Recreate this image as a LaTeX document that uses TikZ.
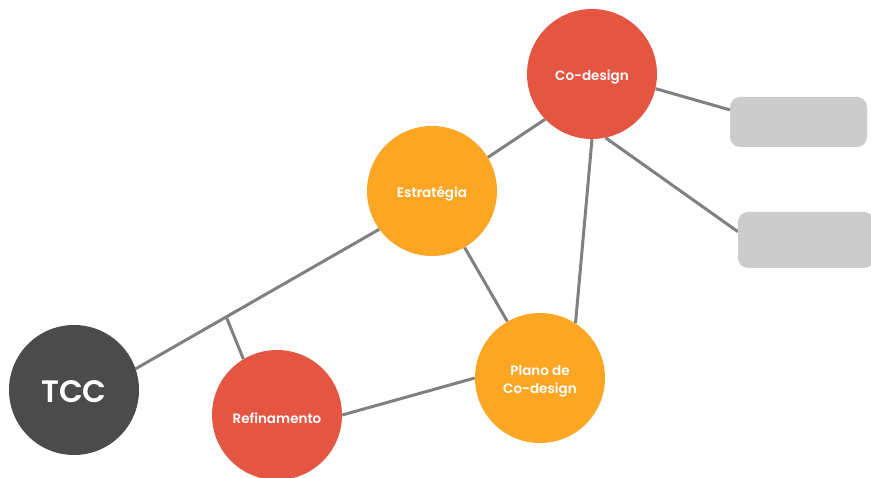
\documentclass[tikz,border=0pt]{standalone}
\usepackage{fontspec}
\setmainfont{Poppins}[BoldFont={Poppins SemiBold}]
\usetikzlibrary{calc,backgrounds}
\definecolor{cred}{HTML}{E55642}
\definecolor{corange}{HTML}{FCA624}
\definecolor{cdark}{HTML}{4B4B4B}
\definecolor{cbox}{HTML}{CCCCCC}
\definecolor{cline}{HTML}{808080}
\tikzset{
 labtext/.style={text=white, font=\bfseries\fontsize{13.5}{18}\selectfont, align=center, inner sep=0pt, yshift=-3pt},
 bubble/.style={circle, minimum size=130pt, inner sep=0pt, label={[labtext]center:#1}},
 redb/.style={bubble=#1, fill=cred},
 orb/.style={bubble=#1, fill=corange},
 darkb/.style={circle, minimum size=130pt, inner sep=0pt, fill=cdark, label={[labtext, font=\bfseries\fontsize{31}{31}\selectfont, yshift=1pt]center:#1}},
 box/.style={rectangle, rounded corners=10pt, fill=cbox, minimum width=137pt, minimum height=50pt, inner sep=0pt},
 link/.style={draw=cline, line width=3pt},
}
\begin{document}
\begin{tikzpicture}[x=1pt,y=-1pt]
\useasboundingbox (0,0) rectangle (871,478);
\node[redb={Co-design}] (cod) at (592,74) {};
\node[orb={Estratégia}] (est) at (432,191) {};
\node[orb={Plano de\\Co-design}] (pla) at (540,378) {};
\node[darkb={TCC}] (tcc) at (74,390) {};
\node[redb={Refinamento}] (ref) at (277,415) {};
\node[box] (r1) at (798.5,122) {};
\node[box, minimum height=56pt, minimum width=136pt] (r2) at (806,240) {};
\begin{scope}[on background layer]
\draw[link] (cod.224) -- (est.31);
\draw[link] (cod.347) -- (r1.170);
\draw[link] (cod.282) -- (r2.173);
\draw[link] (cod.south) -- (pla.57);
\draw[link] (est) -- (pla);
\draw[link] (tcc.19) -- (est.216);
\coordinate (jn) at ($(tcc.19)!0.372!(est.216)$);
\draw[link] (jn) -- (ref.121);
\draw[link] (ref.east) -- (pla.west);
\end{scope}
\end{tikzpicture}
\end{document}
